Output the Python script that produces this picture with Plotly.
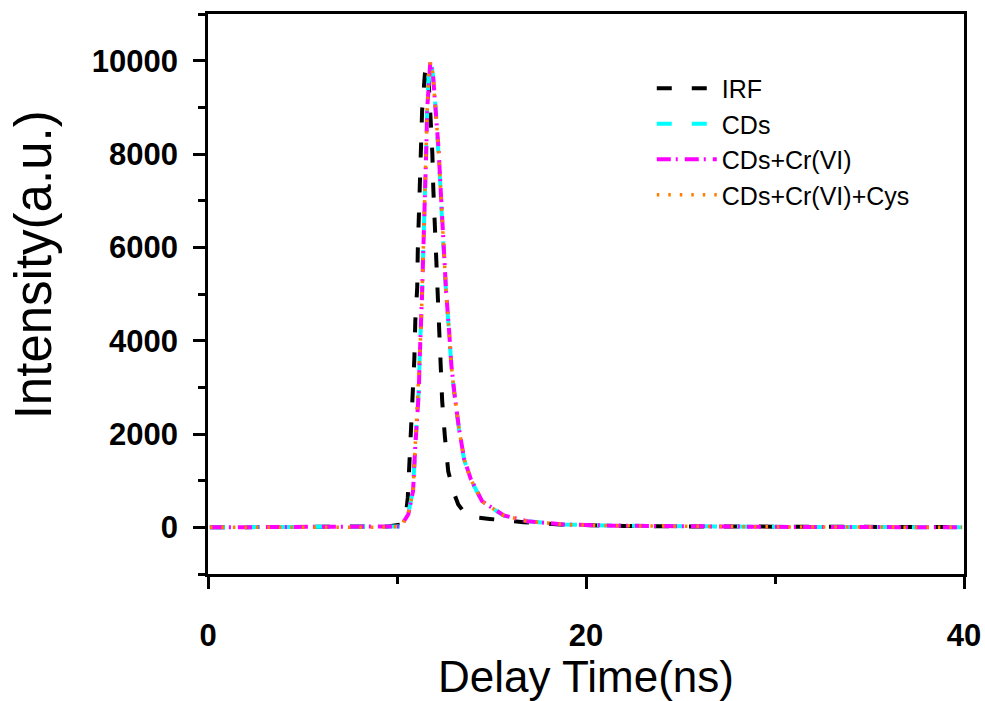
import plotly.graph_objects as go

# ---------------- data ----------------
irf_t = [0.1, 2, 4, 6, 8, 9.5, 10.2, 10.45, 10.57, 10.66, 10.75, 10.84, 10.92, 10.97,
         11.07, 11.1, 11.15, 11.2, 11.25, 11.33, 11.48, 11.58, 11.68, 11.78, 11.87,
         11.92, 11.99, 12.1, 12.17, 12.26, 12.3, 12.39, 12.53, 12.71, 13.0, 13.24,
         13.6, 14.2, 14.9, 16.7, 18.6, 20, 22, 25, 30, 35, 39.9]
irf_y = [0, 0, 0, 0, 0, 20, 60, 200, 630, 1360, 2070, 2860, 3640, 4430,
         5140, 5930, 6640, 7430, 8080, 8940, 9740, 9900, 9520, 8800, 8020,
         7270, 6540, 5760, 4960, 4210, 3460, 2710, 1960, 1200, 750, 490,
         300, 210, 180, 110, 60, 40, 30, 20, 10, 5, 5]

cds_t = [0.1, 3, 6, 9, 10.2, 10.6, 10.85, 10.97, 11.15, 11.2, 11.28, 11.33, 11.38,
         11.42, 11.47, 11.55, 11.6, 11.68, 11.78, 11.9, 12.04, 12.2, 12.3, 12.39,
         12.48, 12.6, 12.75, 12.88, 13.05, 13.28, 13.55, 13.9, 14.5, 15.65, 16.9,
         18.8, 21.5, 25, 30, 35, 39.9]
cds_y = [0, 0, 0, 0, 20, 300, 800, 1800, 2920, 3640, 4370, 5080, 5790,
         6580, 7370, 8150, 9000, 9730, 9990, 9700, 9000, 8080, 7290, 6510,
         5790, 5010, 4220, 3430, 2800, 2100, 1450, 1030, 550, 250, 130,
         60, 35, 20, 10, 5, 3]

cdcr_t = [0.1, 3, 6, 9, 10.2, 10.6, 10.85, 10.97, 11.15, 11.2, 11.28, 11.33, 11.38,
          11.42, 11.47, 11.55, 11.6, 11.68, 11.76, 11.9, 12.04, 12.2, 12.3, 12.39,
          12.48, 12.6, 12.75, 12.88, 13.05, 13.28, 13.55, 13.9, 14.5, 15.65, 16.9,
          18.8, 21.5, 25, 30, 35, 39.9]
cdcr_y = [0, 0, 0, 0, 20, 280, 780, 1750, 2880, 3600, 4330, 5040, 5760,
          6550, 7340, 8120, 8980, 9700, 9960, 9720, 9020, 8100, 7320, 6540,
          5820, 5040, 4250, 3460, 2830, 2120, 1470, 1040, 560, 255, 130,
          62, 36, 20, 10, 5, 3]

cys_t = [0.1, 3, 6, 9, 10.2, 10.6, 10.85, 10.97, 11.15, 11.2, 11.28, 11.33, 11.38,
         11.42, 11.47, 11.55, 11.6, 11.68, 11.77, 11.9, 12.04, 12.2, 12.3, 12.39,
         12.48, 12.6, 12.75, 12.88, 13.05, 13.28, 13.55, 13.9, 14.5, 15.65, 16.9,
         18.8, 21.5, 25, 30, 35, 39.9]
cys_y = [0, 0, 0, 0, 20, 290, 790, 1780, 2900, 3620, 4350, 5060, 5780,
         6560, 7350, 8140, 8990, 9710, 9970, 9710, 9010, 8090, 7300, 6520,
         5800, 5020, 4230, 3440, 2810, 2110, 1460, 1035, 555, 252, 130,
         61, 35, 20, 10, 5, 3]

names = ["IRF", "CDs", "CDs+Cr(VI)", "CDs+Cr(VI)+Cys"]
x_tick_vals = [0, 20, 40]
y_tick_vals = [0, 2000, 4000, 6000, 8000, 10000]
y_tick_text = ["0", "2000", "4000", "6000", "8000", "10000"]
x_title = "Delay Time(ns)"
y_title = "Intensity(a.u.)"

# ---------------- figure ----------------
series = [
    (irf_t, irf_y, "#000000", "15px,20px", 4),
    (cds_t, cds_y, "#00FFFF", "15px,20px", 4),
    (cdcr_t, cdcr_y, "#FF00FF", "14px,5px,2px,7px", 4),
    (cys_t, cys_y, "#FF8000", "2.5px,9px", 3.5),
]

fig = go.Figure()
for (t, y, c, d, w), n in zip(series, names):
    fig.add_trace(go.Scatter(x=t, y=y, mode="lines", name=n,
                             line=dict(color=c, dash=d, width=w)))

FONT = "Liberation Sans, Arial"
axis_common = dict(
    showline=True, linecolor="black", linewidth=2.5, mirror=True,
    showgrid=False, zeroline=False, ticks="outside", ticklen=12, tickwidth=2.5,
    tickcolor="black", automargin=False,
    tickfont=dict(family=FONT, size=31, color="black", weight="bold"),
)

fig.update_xaxes(
    range=[0, 40], tickvals=x_tick_vals,
    minor=dict(dtick=10, tick0=0, ticklen=7, tickwidth=2.5, ticks="outside", tickcolor="black"),
    title=dict(text=x_title, font=dict(family=FONT, size=44, color="black"),
               standoff=18),
    ticklabelstandoff=20,
    **axis_common,
)
fig.update_yaxes(
    range=[-1000, 11000], tickvals=y_tick_vals, ticktext=y_tick_text,
    minor=dict(dtick=1000, tick0=-1000, ticklen=7, tickwidth=2.5, ticks="outside", tickcolor="black"),
    ticklabelstandoff=9,
    **axis_common,
)

# y-axis title placed as rotated text (slightly above the plot centre, as in the reference)
fig.add_annotation(
    text=y_title, textangle=-90, showarrow=False,
    xref="paper", yref="paper", x=-0.2315, y=0.553,
    xanchor="center", yanchor="middle",
    font=dict(family=FONT, size=51, color="black"),
)

fig.update_layout(
    width=985, height=701,
    margin=dict(l=208, r=21, t=14, b=127),
    plot_bgcolor="white", paper_bgcolor="white",
    showlegend=True,
    legend=dict(x=0.587, y=0.908, xanchor="left", yanchor="top",
                bgcolor="rgba(0,0,0,0)", itemwidth=60,
                font=dict(family=FONT, size=25, color="black")),
)

fig.write_html("out.html")
